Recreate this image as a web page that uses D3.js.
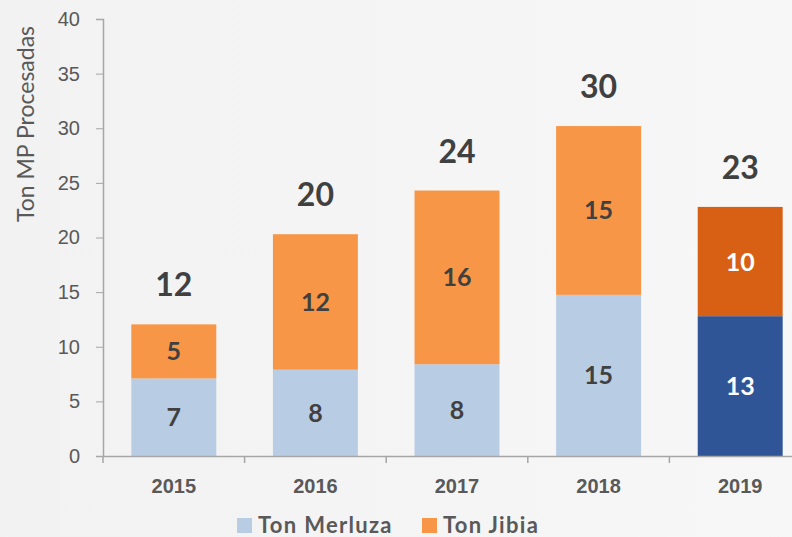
<!DOCTYPE html>
<html>
<head>
<meta charset="utf-8">
<script src="https://cdn.jsdelivr.net/npm/d3@7"></script>
<style>
  body { margin: 0; background: #f3f3f3; }
  svg { display: block; font-family: Lato, "Open Sans", sans-serif; }
  .axis text { fill: #595959; }
  .axis path, .axis line { stroke: #a6a6a6; }
</style>
</head>
<body>
<svg width="792" height="537"></svg>
<script>
// data
var years = ["2015", "2016", "2017", "2018", "2019"];
var merluza = [7.1, 7.9, 8.4, 14.75, 12.8];
var jibia = [4.95, 12.4, 15.9, 15.45, 10.0];
var yTicks = [0, 5, 10, 15, 20, 25, 30, 35, 40];
var seriesNames = ["Ton Merluza", "Ton Jibia"];
var highlightYear = "2019";

var svg = d3.select("svg"),
    width = +svg.attr("width"),
    height = +svg.attr("height");

// light gradient background like the original slide
var defs = svg.append("defs");
var grad = defs.append("linearGradient").attr("id", "bg").attr("x1", 0).attr("x2", 1);
grad.append("stop").attr("offset", "0%").attr("stop-color", "#f2f2f2");
grad.append("stop").attr("offset", "100%").attr("stop-color", "#f7f7f7");
svg.append("rect").attr("width", width).attr("height", height).attr("fill", "url(#bg)");

var x = d3.scaleBand()
    .domain(years)
    .range([103, 811])
    .paddingInner(0.4)
    .paddingOuter(0.2);

var y = d3.scaleLinear()
    .domain([0, 40])
    .range([456, 19]);

var colors = {
    normal: ["#b8cce4", "#f79646"],
    highlight: ["#2f5597", "#d86014"]
};

var rows = years.map(function (yr, i) {
    return { year: yr, merluza: merluza[i], jibia: jibia[i] };
});
var stack = d3.stack().keys(["merluza", "jibia"])(rows);

// y axis
var yAxis = svg.append("g")
    .attr("class", "axis")
    .attr("transform", "translate(103,0)")
    .call(d3.axisLeft(y).tickValues(yTicks).tickSize(7).tickPadding(16).tickSizeOuter(7));
yAxis.selectAll("text").attr("font-size", 20);
yAxis.select(".domain").attr("stroke-width", 1.5);

svg.append("text")
    .attr("transform", "translate(34,124) rotate(-90)")
    .attr("text-anchor", "middle")
    .attr("font-size", 23)
    .attr("fill", "#595959")
    .text("Ton MP Procesadas");

// bars
stack.forEach(function (layer, si) {
    svg.append("g").selectAll("rect")
        .data(layer)
        .enter().append("rect")
        .attr("x", function (d) { return x(d.data.year); })
        .attr("width", x.bandwidth())
        .attr("y", function (d) { return y(d[1]); })
        .attr("height", function (d) { return y(d[0]) - y(d[1]); })
        .attr("fill", function (d) {
            return d.data.year === highlightYear ? colors.highlight[si] : colors.normal[si];
        });

    svg.append("g").selectAll("text")
        .data(layer)
        .enter().append("text")
        .attr("x", function (d) { return x(d.data.year) + x.bandwidth() / 2; })
        .attr("y", function (d) { return (y(d[0]) + y(d[1])) / 2 + 9; })
        .attr("text-anchor", "middle")
        .attr("font-size", 25)
        .attr("font-weight", "bold")
        .attr("fill", function (d) { return d.data.year === highlightYear ? "#ffffff" : "#404040"; })
        .text(function (d) { return Math.round(d[1] - d[0]); });
});

// totals above bars
svg.append("g").selectAll("text")
    .data(rows)
    .enter().append("text")
    .attr("x", function (d) { return x(d.year) + x.bandwidth() / 2; })
    .attr("y", function (d) { return y(d.merluza + d.jibia) - 28; })
    .attr("text-anchor", "middle")
    .attr("font-size", 32)
    .attr("font-weight", "bold")
    .attr("fill", "#404040")
    .text(function (d) { return Math.round(d.merluza + d.jibia); });

// x axis
var xAxis = svg.append("g")
    .attr("class", "axis")
    .attr("transform", "translate(0,456)")
    .call(d3.axisBottom(x).tickSize(0));
xAxis.selectAll("text")
    .attr("dy", null)
    .attr("y", 37)
    .attr("font-size", 20)
    .attr("font-weight", "bold");
xAxis.select(".domain").attr("stroke-width", 1.5);
// category separator ticks
xAxis.selectAll(".sep")
    .data(years)
    .enter().append("line")
    .attr("class", "sep")
    .attr("x1", function (d) { return x(d) - x.step() * x.paddingInner() / 2; })
    .attr("x2", function (d) { return x(d) - x.step() * x.paddingInner() / 2; })
    .attr("y1", 0)
    .attr("y2", 7)
    .attr("stroke", "#a6a6a6")
    .attr("stroke-width", 1.5);

// legend
var legend = svg.append("g").attr("transform", "translate(237,518)");
var legendX = [0, 185];
seriesNames.forEach(function (name, i) {
    var item = legend.append("g").attr("transform", "translate(" + legendX[i] + ",0)");
    item.append("rect").attr("width", 15).attr("height", 15).attr("fill", colors.normal[i]);
    item.append("text")
        .attr("x", 21)
        .attr("y", 15)
        .attr("font-size", 22)
        .attr("font-weight", "bold")
        .attr("letter-spacing", 1.3)
        .attr("fill", "#595959")
        .text(name);
});
</script>
</body>
</html>
